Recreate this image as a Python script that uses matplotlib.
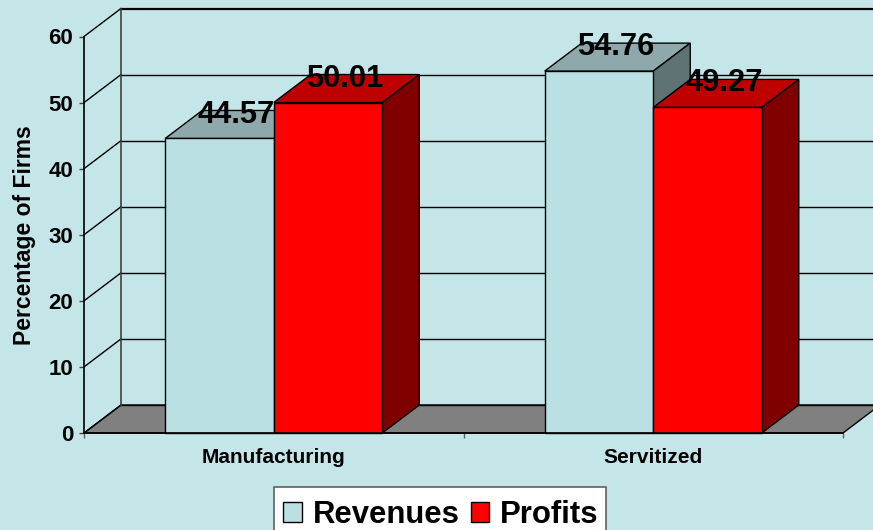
import matplotlib
matplotlib.use('Agg')
import matplotlib.pyplot as plt
from matplotlib.patches import Patch, Polygon, Rectangle

categories = ['Manufacturing', 'Servitized']
revenues = [44.57, 54.76]
profits = [50.01, 49.27]
y_ticks = [0, 10, 20, 30, 40, 50, 60]

W, H = 873, 530
BG = '#C4E6E9'
# colours per series: front, top, side
REV_COL = ('#BAE0E3', '#8FA8AB', '#5F7274')
PROF_COL = ('#FF0000', '#BF0000', '#800000')

plt.rcParams['font.family'] = ['Liberation Sans', 'DejaVu Sans']
plt.rcParams['font.weight'] = 'bold'

fig = plt.figure(figsize=(W / 100, H / 100), dpi=100, facecolor=BG)
ax = fig.add_axes([84 / W, (H - 433) / H, (843 - 84) / W, (433 - 36.5) / H])
ax.patch.set_visible(False)
ax.set_xlim(0, 2)
ax.set_ylim(0, 60)

# depth of the fake 3d box, in data units
dx = 37 / 379.5
dy = 28 / (396.5 / 60)
bar_w = 0.286

# floor
ax.add_patch(Polygon([(0, 0), (2, 0), (2 + dx, dy), (dx, dy)], closed=True, fc='#808080',
                     ec='black', lw=1.0, clip_on=False, zorder=1))

# back wall grid and left wall diagonals
for v in y_ticks:
    lw = 1.6 if v == 60 else 1.0
    ax.plot([dx, 2 + dx], [v + dy, v + dy], color='black', lw=lw, clip_on=False, zorder=1)
    ax.plot([0, dx], [v, v + dy], color='black', lw=1.0, clip_on=False, zorder=1)
ax.plot([dx, dx], [dy, 60 + dy], color='#404040', lw=1.2, clip_on=False, zorder=1)


def bar3d(x0, v, cols, z):
    x1 = x0 + bar_w
    ax.add_patch(Polygon([(x0, v), (x1, v), (x1 + dx, v + dy), (x0 + dx, v + dy)], closed=True,
                         fc=cols[1], ec='black', lw=1.0, clip_on=False, zorder=z))
    ax.add_patch(Polygon([(x1, 0), (x1 + dx, dy), (x1 + dx, v + dy), (x1, v)], closed=True,
                         fc=cols[2], ec='black', lw=1.0, clip_on=False, zorder=z))
    ax.add_patch(Polygon([(x0, 0), (x1, 0), (x1, v), (x0, v)], closed=True,
                         fc=cols[0], ec='black', lw=1.0, clip_on=False, zorder=z))


for i in range(len(categories)):
    centre = i + 0.5
    bar3d(centre - bar_w, revenues[i], REV_COL, 2)
    bar3d(centre, profits[i], PROF_COL, 3)
    ax.text(centre - bar_w / 2 + 0.46 * dx, revenues[i] + 0.98 * dy, f'{revenues[i]:.2f}',
            ha='center', va='center_baseline', fontsize=22.2, zorder=5, clip_on=False)
    ax.text(centre + bar_w / 2 + 0.46 * dx, profits[i] + 0.98 * dy, f'{profits[i]:.2f}',
            ha='center', va='center_baseline', fontsize=22.2, zorder=5, clip_on=False)

# axes
for s in ['top', 'right']:
    ax.spines[s].set_visible(False)
for s in ['left', 'bottom']:
    ax.spines[s].set_linewidth(1.2)
    ax.spines[s].set_zorder(4)
ax.set_yticks(y_ticks)
ax.tick_params(axis='y', labelsize=16, length=3.6, width=1, color='#404040', pad=4.3)
ax.set_xticks([0, 1, 2])
ax.set_xticklabels([])
ax.set_xticks([0.5, 1.5], minor=True)
ax.set_xticklabels(categories, minor=True, fontsize=15)
ax.tick_params(axis='x', which='major', length=3.6, width=1, color='#606060')
ax.tick_params(axis='x', which='minor', length=0, pad=11)

fig.text(24.5 / W, (H - 235) / H, 'Percentage of Firms', rotation=90, ha='center', va='center',
         fontsize=16.5)

# legend box runs off the bottom of the picture
fig.add_artist(Rectangle((274 / W, (H - 540) / H), 332 / W, 53 / H, transform=fig.transFigure,
                         fc='white', ec='#606060', lw=1.2))
handles = [Patch(fc=REV_COL[0], ec='black', lw=1.0, label='Revenues'),
           Patch(fc=PROF_COL[0], ec='black', lw=1.0, label='Profits')]
leg = fig.legend(handles=handles, loc='upper center', bbox_to_anchor=(441 / W, (H - 487) / H),
                 ncol=2, fontsize=22.4, frameon=False, handlelength=0.6, handleheight=0.6,
                 handletextpad=0.35, columnspacing=0.36, borderaxespad=0, borderpad=0.42)

plt.savefig('out.png', dpi=100, facecolor=BG)
plt.close()
